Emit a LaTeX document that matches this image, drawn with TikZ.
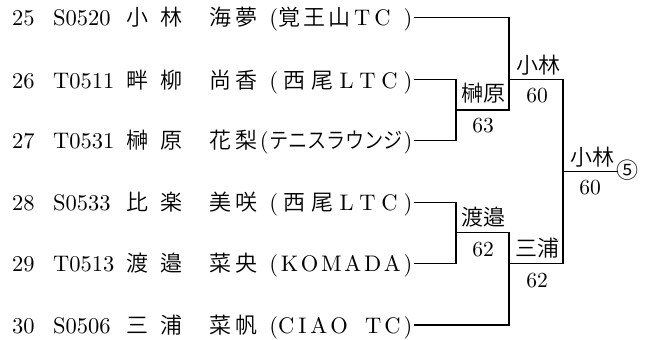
\documentclass[tikz,border=0pt]{standalone}
\usepackage{fontspec}
\usepackage{graphicx}
\setmainfont{lmroman10-regular}[Extension=.otf]
\newfontfamily\jp{Noto Sans CJK JP DemiLight}[Scale=0.978]
\newfontfamily\jpl{Noto Sans CJK JP DemiLight}
\newcommand\jpc[1]{{\jp #1}}
\tikzset{
  rowtxt/.style={inner xsep=0pt, inner ysep=0pt, text height=20pt, text depth=3pt, font=\fontsize{22.5}{27}\selectfont},
  lbljp/.style={inner sep=0pt, text height=19.5pt, text depth=3pt, font=\fontsize{22}{26}\selectfont\jpl},
  lblnum/.style={inner sep=0pt, text height=17pt, text depth=3pt, font=\fontsize{21.5}{26}\selectfont},
  bracket/.style={line width=1.2pt, line cap=rect}
}
\newcommand\prow[9]{%
  \node[rowtxt,anchor=west] (#1n) at (12,#2) {#3};
  \node[rowtxt,anchor=west] (#1i) at (53,#2) {#4};
  \node[rowtxt,anchor=west] (#1s) at (126.5,#2) {\jp #5\hspace{11.5pt}#6};
  \node[rowtxt,anchor=west] (#1g) at (209,#2) {\jp #7\hspace{4pt}#8};
  \node[rowtxt,anchor=east,inner xsep=2.5pt] (#1c) at (415,#2) {#9};
}
\begin{document}
\begin{tikzpicture}[x=1pt,y=-1pt]
\useasboundingbox (0,0) rectangle (657,340);
\prow{r25}{17.3}{25}{S0520}{小}{林}{海}{夢}{\makebox[143pt][s]{(\jpc{覚}\hspace{3pt}\jpc{王}\hspace{3pt}\jpc{山}\hspace{4pt}T\hspace{4pt}C\hfill)}}
\prow{r26}{79.8}{26}{T0511}{畔}{柳}{尚}{香}{\makebox[143pt][s]{(\hfill\jpc{西}\hfill\jpc{尾}\hfill L\hfill T\hfill C\hfill)}}
\prow{r27}{140.3}{27}{T0531}{榊}{原}{花}{梨}{(\hspace{0.5pt}\scalebox{0.87}[1]{\jp テニスラウンジ}\hspace{0.5pt})}
\prow{r28}{202.3}{28}{S0533}{比}{楽}{美}{咲}{\makebox[143pt][s]{(\hfill\jpc{西}\hfill\jpc{尾}\hfill L\hfill T\hfill C\hfill)}}
\prow{r29}{263.3}{29}{T0513}{渡}{邉}{菜}{央}{\makebox[143pt][s]{(\hfill K\hfill O\hfill M\hfill A\hfill D\hfill A\hfill)}}
\prow{r30}{325}{30}{S0506}{三}{浦}{菜}{帆}{\makebox[143pt][s]{(C\hspace{4pt}I\hspace{4pt}A\hspace{3pt}O\hfill T\hspace{3pt}C\hspace{3pt})}}
% junctions
\coordinate (m1) at (456,110);
\coordinate (m2) at (509,79.8);
\coordinate (m3) at (456,232.3);
\coordinate (m4) at (509,263.3);
\coordinate (m5) at (563,171.7);
\coordinate (f) at (617,171.7);
% bracket lines
\draw[bracket] (r26c.east) -| (m1) |- (r27c.east);
\draw[bracket] (r25c.east) -| (m1 -| m2) -- (m1);
\draw[bracket] (r28c.east) -| (m3) |- (r29c.east);
\draw[bracket] (r30c.east) -| (m3 -| m4) -- (m3);
\draw[bracket] (m2) -| (m4 -| m5) -- (m4);
\draw[bracket] (m5) -- (f);
% labels
\node[lbljp] (w1) at (483,93) {榊原};
\node[lblnum] (s1) at (483,125) {63};
\node[lbljp] (w2) at (538,65) {小林};
\node[lblnum] (s2) at (537,95) {60};
\node[lbljp] (w3) at (483,217) {渡邉};
\node[lblnum] (s3) at (483,249) {62};
\node[lbljp] (w4) at (537,248) {三浦};
\node[lblnum] (s4) at (537,280) {62};
\node[lbljp] (w5) at (592,157) {小林};
\node[lblnum] (s5) at (590,187) {60};
\node[lbljp] (win) at (627,170) {⑤};
\end{tikzpicture}
\end{document}
